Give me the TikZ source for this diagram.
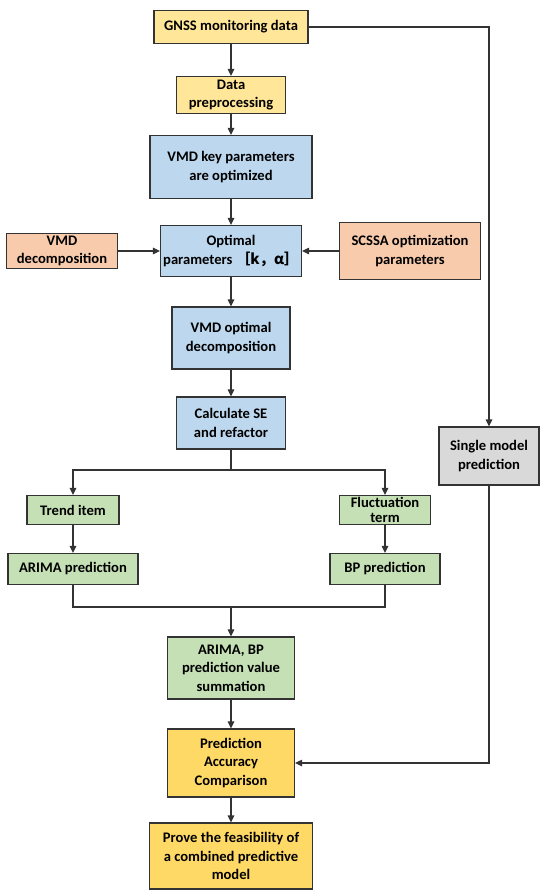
\documentclass[tikz,border=0pt]{standalone}
\usepackage{fontspec}
\setmainfont{Carlito}
\newfontfamily\cjk{Noto Sans CJK SC}
\usetikzlibrary{
    positioning,
    calc,
    arrows.meta
}
\definecolor{GoldLight}{HTML}{FFE699}
\definecolor{GoldDark}{HTML}{FFD966}
\definecolor{BlueLight}{HTML}{BDD7EE}
\definecolor{OrangeLight}{HTML}{F8CBAD}
\definecolor{GreenLight}{HTML}{C5E0B4}
\definecolor{GrayLight}{HTML}{D9D9D9}
\definecolor{LineGray}{HTML}{333333}

\tikzset{
    box/.style={
        draw=LineGray,
        line width=1.2pt,
        align=center,
        inner sep=2pt,
        font=\bfseries\fontsize{14.6}{18.4}\selectfont
    },
    flow/.style={
        draw=LineGray,
        line width=1.2pt,
        -{Triangle[length=7pt,width=6.5pt]}
    },
    link/.style={
        draw=LineGray,
        line width=1.2pt
    }
}

\begin{document}
\begin{tikzpicture}[x=1pt,y=-1pt]
    \useasboundingbox (0,0) rectangle (550,896);

    \node[box, fill=GoldLight, minimum width=154pt, minimum height=33pt]
        (gnss) at (231,27) {GNSS monitoring data};
    \node[box, fill=GoldLight, minimum width=109pt, minimum height=37pt]
        (prep) at (231,95) {Data\\preprocessing};
    \node[box, fill=BlueLight, minimum width=162pt, minimum height=63pt]
        (keypar) at (231,167) {VMD key parameters\\are optimized};
    \node[box, fill=BlueLight, minimum width=141pt, minimum height=51pt]
        (optpar) at (231,251) {Optimal\\parameters {\cjk［k，α］}};
    \node[box, fill=OrangeLight, minimum width=111pt, minimum height=35pt]
        (vmddec) at (62,251) {VMD\\decomposition};
    \node[box, fill=OrangeLight, minimum width=141pt, minimum height=57pt]
        (scssa) at (410,251) {SCSSA optimization\\parameters};
    \node[box, fill=BlueLight, minimum width=118pt, minimum height=62pt]
        (vmdopt) at (231,338) {VMD optimal\\decomposition};
    \node[box, fill=BlueLight, minimum width=109pt, minimum height=52pt]
        (calcse) at (231,423) {Calculate SE\\and refactor};
    \node[box, fill=GreenLight, minimum width=92pt, minimum height=29pt]
        (trend) at (73,510) {Trend item};
    \node[box, fill=GreenLight, minimum width=91pt, minimum height=29pt,
        font=\bfseries\fontsize{14.6}{14.6}\selectfont]
        (fluct) at (385,510) {Fluctuation\\term};
    \node[box, fill=GreenLight, minimum width=130pt, minimum height=31pt]
        (arima) at (73,569) {ARIMA prediction};
    \node[box, fill=GreenLight, minimum width=110pt, minimum height=31pt]
        (bp) at (385,569) {BP prediction};
    \node[box, fill=GreenLight, minimum width=127pt, minimum height=62pt]
        (summ) at (231,668) {ARIMA, BP\\prediction value\\summation};
    \node[box, fill=GoldDark, minimum width=127pt, minimum height=68pt]
        (compare) at (231,763) {Prediction\\Accuracy\\Comparison};
    \node[box, fill=GoldDark, minimum width=163pt, minimum height=66pt]
        (prove) at (231,856) {Prove the feasibility of\\a combined predictive\\model};
    \node[box, fill=GrayLight, minimum width=100pt, minimum height=58pt]
        (single) at (489,456) {Single model\\prediction};

    \coordinate (split) at (231,470);
    \coordinate (join) at (231,607);

    \draw[flow] (gnss) -- (prep);
    \draw[flow] (prep) -- (keypar);
    \draw[flow] (keypar) -- (optpar);
    \draw[flow] (vmddec) -- (optpar);
    \draw[flow] (scssa) -- (optpar);
    \draw[flow] (optpar) -- (vmdopt);
    \draw[flow] (vmdopt) -- (calcse);
    \draw[link] (calcse) -- (split);
    \draw[flow] (split) -| (trend);
    \draw[flow] (split) -| (fluct);
    \draw[flow] (trend) -- (arima);
    \draw[flow] (fluct) -- (bp);
    \draw[link] (arima) |- (join);
    \draw[link] (join) -| (bp);
    \draw[flow] (join) -- (summ);
    \draw[flow] (summ) -- (compare);
    \draw[flow] (compare) -- (prove);
    \draw[flow] (gnss) -| (single);
    \draw[flow] (single) |- (compare);
\end{tikzpicture}
\end{document}
